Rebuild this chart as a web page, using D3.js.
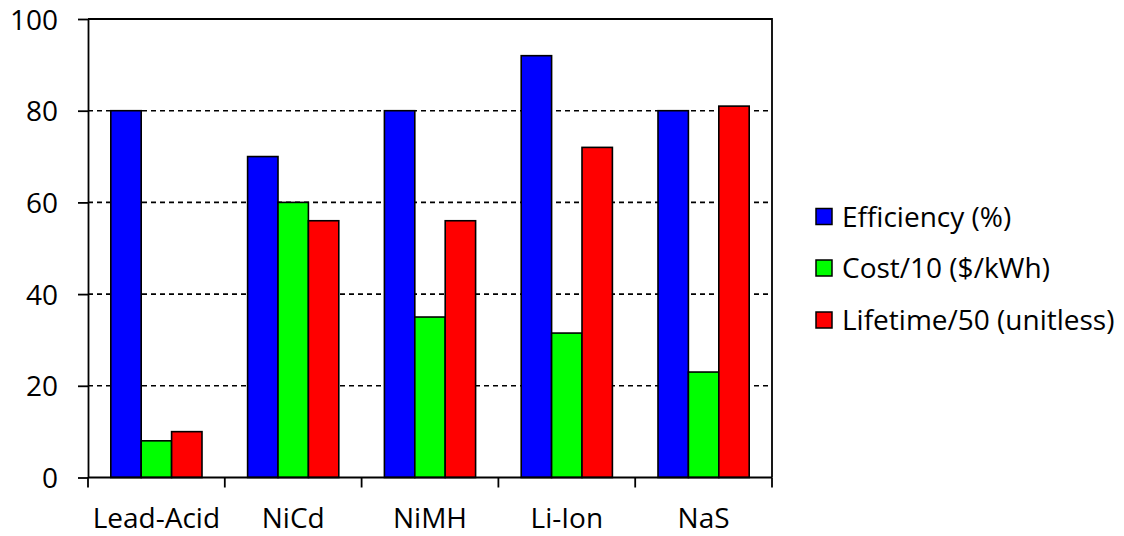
<!DOCTYPE html>
<html>
<head>
<meta charset="utf-8">
<script src="https://cdn.jsdelivr.net/npm/d3@7"></script>
<style>
  html, body { margin: 0; padding: 0; background: #fff; }
  svg { display: block; }
  text { font-family: "Open Sans", Lato, "Liberation Sans", sans-serif; fill: #000; }
</style>
</head>
<body>
<svg id="chart" width="1124" height="536"></svg>
<script>
// Battery technologies compared on three normalised measures
const categories = ["Lead-Acid", "NiCd", "NiMH", "Li-Ion", "NaS"];
const seriesNames = ["Efficiency (%)", "Cost/10 ($/kWh)", "Lifetime/50 (unitless)"];
const seriesColors = ["#0000ff", "#00ff00", "#ff0000"];
const efficiency = [80, 70, 80, 92, 80];
const costPer10 = [8, 60, 35, 31.5, 23];
const lifetimePer50 = [10, 56, 56, 72, 81];
const yTicks = [0, 20, 40, 60, 80, 100];

const series = [efficiency, costPer10, lifetimePer50];
const FONT = "28px";
const LINE = 1.8;

const svg = d3.select("#chart");
const plot = { left: 88, right: 772, top: 19, bottom: 477.5 };

const x = d3.scaleBand()
  .domain(categories)
  .range([plot.left, plot.right])
  .paddingInner(1 / 3)
  .paddingOuter(1 / 6);

// Each group holds three bars; the band is split evenly between them
const xInner = d3.scaleBand()
  .domain(d3.range(series.length))
  .range([0, x.bandwidth()]);

const y = d3.scaleLinear()
  .domain([0, 100])
  .range([plot.bottom, plot.top]);

// Dashed horizontal gridlines
svg.append("g")
  .selectAll("line")
  .data(yTicks.filter(d => d > 0 && d < 100))
  .join("line")
  .attr("x1", plot.left)
  .attr("x2", plot.right)
  .attr("y1", d => y(d))
  .attr("y2", d => y(d))
  .attr("stroke", "#000")
  .attr("stroke-width", 1.6)
  .attr("stroke-dasharray", "5,4");

// Plot frame: top and right edges
svg.append("path")
  .attr("d", `M${plot.left},${y(100)}H${plot.right}V${plot.bottom}`)
  .attr("fill", "none")
  .attr("stroke", "#000")
  .attr("stroke-width", LINE);

// Bars
const groups = svg.append("g")
  .selectAll("g")
  .data(categories)
  .join("g")
  .attr("transform", d => `translate(${x(d)},0)`);

groups.selectAll("rect")
  .data((c, i) => series.map((s, k) => ({ k, v: s[i] })))
  .join("rect")
  .attr("x", d => xInner(d.k))
  .attr("width", xInner.bandwidth())
  .attr("y", d => y(d.v))
  .attr("height", d => y(0) - y(d.v))
  .attr("fill", d => seriesColors[d.k])
  .attr("stroke", "#000")
  .attr("stroke-width", 1.6);

// Y axis
const yAxis = svg.append("g")
  .attr("transform", `translate(${plot.left},0)`)
  .call(d3.axisLeft(y).tickValues(yTicks).tickSize(10).tickPadding(20).tickSizeOuter(0));
yAxis.attr("font-size", null).attr("font-family", null);
yAxis.select(".domain").attr("stroke-width", LINE);
yAxis.selectAll(".tick line").attr("stroke-width", LINE);
yAxis.selectAll(".tick text")
  .style("font-size", FONT)
  .attr("dy", "0.36em");

// X axis with ticks between categories
const xAxisG = svg.append("g")
  .attr("transform", `translate(0,${plot.bottom})`);
xAxisG.append("line")
  .attr("x1", plot.left).attr("x2", plot.right)
  .attr("stroke", "#000").attr("stroke-width", LINE);

const boundaries = d3.range(categories.length + 1).map(i => plot.left + i * (plot.right - plot.left) / categories.length);
xAxisG.selectAll("line.sep")
  .data(boundaries)
  .join("line")
  .attr("class", "sep")
  .attr("x1", d => d).attr("x2", d => d)
  .attr("y1", 0).attr("y2", 10)
  .attr("stroke", "#000").attr("stroke-width", LINE);

xAxisG.selectAll("text")
  .data(categories)
  .join("text")
  .attr("x", d => x(d) + x.bandwidth() / 2)
  .attr("y", 50.5)
  .attr("text-anchor", "middle")
  .style("font-size", FONT)
  .text(d => d);

// Legend
const legend = svg.append("g")
  .attr("transform", "translate(816,0)");
const legendRows = [216.5, 268, 320];
const li = legend.selectAll("g")
  .data(seriesNames)
  .join("g")
  .attr("transform", (d, i) => `translate(0,${legendRows[i]})`);
li.append("rect")
  .attr("x", 0).attr("y", -8)
  .attr("width", 16).attr("height", 16)
  .attr("fill", (d, i) => seriesColors[i])
  .attr("stroke", "#000")
  .attr("stroke-width", 1.5);
li.append("text")
  .attr("x", 26)
  .attr("y", 0)
  .attr("dy", "0.36em")
  .style("font-size", FONT)
  .text(d => d);
</script>
</body>
</html>
